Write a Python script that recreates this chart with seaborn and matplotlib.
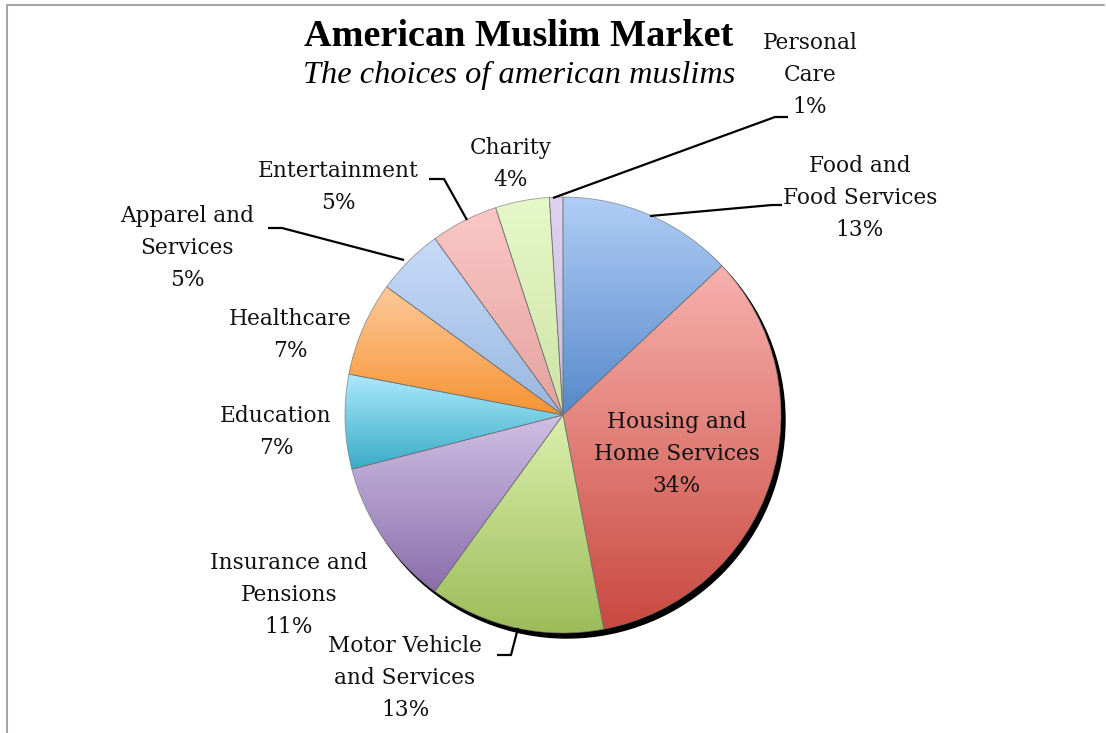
import numpy as np
import matplotlib
matplotlib.use("Agg")
import matplotlib.pyplot as plt
import seaborn as sns
from matplotlib.patches import Circle
from matplotlib.colors import to_rgba

# ---- data ----
categories = ["Food and\nFood Services", "Housing and\nHome Services", "Motor Vehicle\nand Services",
              "Insurance and\nPensions", "Education", "Healthcare", "Apparel and\nServices",
              "Entertainment", "Charity", "Personal\nCare"]
shares = [13, 34, 13, 11, 7, 7, 5, 5, 4, 1]
top_colors = ["#b0cdf6", "#f8b1ae", "#dbefad", "#cfc0e4", "#aeeafd", "#fdca9a", "#c7dbf8",
              "#fbc7c5", "#e6f8c8", "#ddd3ef"]
bottom_colors = ["#5689c9", "#c9493f", "#9cbc58", "#8a6eab", "#38abc7", "#f69333", "#98b6df",
                 "#e3a29e", "#cde3a4", "#c9bbdf"]
title = "American Muslim Market"
subtitle = "The choices of american muslims"

sns.set_theme(style="white")
plt.rcParams['font.family'] = ['Liberation Serif', 'DejaVu Serif']

W, H = 1106, 733
fig = plt.figure(figsize=(W / 100, H / 100), dpi=100)
ax = fig.add_axes([0, 0, 1, 1])

def Y(py):
    return H - py

cx, cy, R = 563, Y(415), 218

# shadow
ax.add_patch(Circle((cx + 4, cy - 5), R, color="black", zorder=1))

wedges, _ = ax.pie(shares, center=(cx, cy), radius=R, startangle=90, counterclock=False,
                   frame=True, wedgeprops=dict(linewidth=0.6, edgecolor=(0.45, 0.45, 0.45, 0.7)))

t = np.linspace(0, 1, 256)[:, None]
for w, tc, bc in zip(wedges, top_colors, bottom_colors):
    w.set_facecolor("none")
    w.set_zorder(3)
    ext = w.get_path().get_extents()
    c0 = np.array(to_rgba(bc)); c1 = np.array(to_rgba(tc))
    grad = (c0 * (1 - t) + c1 * t)[:, None, :]
    im = ax.imshow(grad, extent=(ext.x0, ext.x1, ext.y0, ext.y1), origin="lower",
                   aspect="auto", zorder=2, interpolation="bilinear")
    im.set_clip_path(w)

# labels (one text per line, 32 px line pitch)
label_pos = [(860, 198), (677, 454), (405, 678), (289, 595), (276, 432), (290, 335),
             (187, 248), (338, 187), (511, 164), (810, 75)]
pitch = 32
for cat, v, (px, py) in zip(categories, shares, label_pos):
    lines = cat.split("\n") + [f"{v}%"]
    n = len(lines)
    for i, ln in enumerate(lines):
        yy = py + (i - (n - 1) / 2) * pitch
        ax.text(px, Y(yy), ln, ha="center", va="center", fontsize=15.6,
                family=["DejaVu Serif"], color="#111111", zorder=5)

leaders = [
    [(650, 216), (772, 205), (782, 205)],
    [(553, 198), (775, 117), (788, 117)],
    [(467, 220), (444, 179), (429, 179)],
    [(404, 260), (282, 228), (268, 228)],
    [(518, 628), (511, 655), (497, 655)],
]
for pts in leaders:
    xs = [p[0] for p in pts]; ys = [Y(p[1]) for p in pts]
    ax.plot(xs, ys, color="black", lw=1.6, zorder=4, solid_capstyle="butt")

ax.text(519, Y(37), title, ha="center", va="center", fontsize=27.5, fontweight="bold", color="black")
ax.text(519, Y(75), subtitle, ha="center", va="center", fontsize=23.3, style="italic", color="black")

# chart frame
ax.plot([7, 7, 1104], [0, Y(5), Y(5)], color="#a6a6a6", lw=1.5, zorder=0)

ax.set_xlim(0, W); ax.set_ylim(0, H)
ax.set_aspect("equal")
ax.axis("off")
fig.savefig("out.png", dpi=100, facecolor="white")
